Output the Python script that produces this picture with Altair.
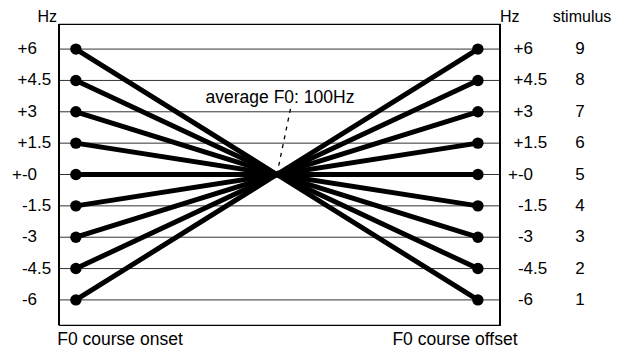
import altair as alt
import pandas as pd

# ---- data ----
levels = [6, 4.5, 3, 1.5, 0, -1.5, -3, -4.5, -6]
tick_labels = ["+6", "+4.5", "+3", "+1.5", "+-0", "-1.5", "-3", "-4.5", "-6"]
stimuli = [9, 8, 7, 6, 5, 4, 3, 2, 1]
# course positions: onset, average point, offset (normalised time)
course_t = [0.0, 0.5, 1.0]
center_value = 0
annotation_text = "average F0: 100Hz"
leader_t = [0.535, 0.5]
leader_v = [3.25, 0.0]
onset_label = "F0 course onset"
offset_label = "F0 course offset"

W, H = 441, 301
FONT = "Liberation Sans"

rows = []
for lv, st in zip(levels, stimuli):
    rows.append({"stim": st, "t": course_t[0], "v": lv, "end": True})
    rows.append({"stim": st, "t": course_t[1], "v": center_value, "end": False})
    rows.append({"stim": st, "t": course_t[2], "v": lv, "end": True})
lines_df = pd.DataFrame(rows)
labels_df = pd.DataFrame({"v": levels, "label": tick_labels, "stim": stimuli})
leader_df = pd.DataFrame({"t": leader_t, "v": leader_v})

xs = alt.Scale(domain=[-0.042, 1.055])
ys = alt.Scale(domain=[-7.2, 7.2])
X = alt.X("t:Q", scale=xs, axis=None)
Y = alt.Y("v:Q", scale=ys, axis=None)

grid = alt.Chart(labels_df).mark_rule(color="#333", strokeWidth=1).encode(
    y=alt.Y("v:Q", scale=ys, axis=None)
)

vlines = alt.Chart(pd.DataFrame({"p": [0, W]})).mark_rule(
    color="black", strokeWidth=2
).encode(x=alt.X("p:Q", scale=None), y=alt.value(0), y2=alt.value(H))

lines = alt.Chart(lines_df).mark_line(color="black", strokeWidth=5).encode(
    x=X, y=Y, detail="stim:N", order="t:Q"
)
points = alt.Chart(lines_df).transform_filter("datum.end").mark_circle(
    color="black", opacity=1, size=130
).encode(x=X, y=Y)

leader = alt.Chart(leader_df).mark_line(
    color="black", strokeWidth=1.3, strokeDash=[4, 5]
).encode(x=X, y=Y)

txt = dict(font=FONT, fontSize=17, color="black", baseline="middle")
lab = alt.Chart(labels_df).transform_calculate(
    ip="split(datum.label, '.')[0]",
    fp="indexof(datum.label, '.') >= 0 ? '.' + split(datum.label, '.')[1] : ''",
)
yl = alt.Y("v:Q", scale=ys, axis=None)
left_int = lab.mark_text(align="right", **txt).encode(x=alt.value(-22), y=yl, text="ip:N")
left_frac = lab.mark_text(align="left", **txt).encode(x=alt.value(-22), y=yl, text="fp:N")
right_int = lab.mark_text(align="right", **txt).encode(x=alt.value(474), y=yl, text="ip:N")
right_frac = lab.mark_text(align="left", **txt).encode(x=alt.value(474), y=yl, text="fp:N")
stim_txt = lab.mark_text(align="center", **txt).encode(x=alt.value(521), y=yl, text="stim:N")

def label(s, x, y, align, size=16):
    return alt.Chart(pd.DataFrame({"s": [s]})).mark_text(
        font=FONT, fontSize=size, color="black", align=align, baseline="alphabetic"
    ).encode(x=alt.value(x), y=alt.value(y), text="s:N")

hz_left = label("Hz", -2, -2, "right")
hz_right = label("Hz", 441, -2, "left")
stim_head = label("stimulus", 523, -2, "center")
onset = label(onset_label, 61, 321, "center", 17.5)
offset = label(offset_label, 396, 321, "center", 17.5)
annot = alt.Chart(pd.DataFrame({"s": [annotation_text]})).mark_text(
    font=FONT, fontSize=17.5, color="black", align="center", baseline="alphabetic"
).encode(x=alt.value(221), y=alt.value(79), text="s:N")

chart = alt.layer(
    grid, lines, points, leader, vlines,
    left_int, left_frac, right_int, right_frac, stim_txt,
    hz_left, hz_right, stim_head, onset, offset, annot,
).properties(
    width=W, height=H,
    autosize=alt.AutoSizeParams(type="none"),
    padding={"left": 51, "top": 16, "right": 119, "bottom": 24},
).configure_view(stroke="black", strokeWidth=1.2)

chart.save("out.html", embed_options={"renderer": "svg", "actions": False})
